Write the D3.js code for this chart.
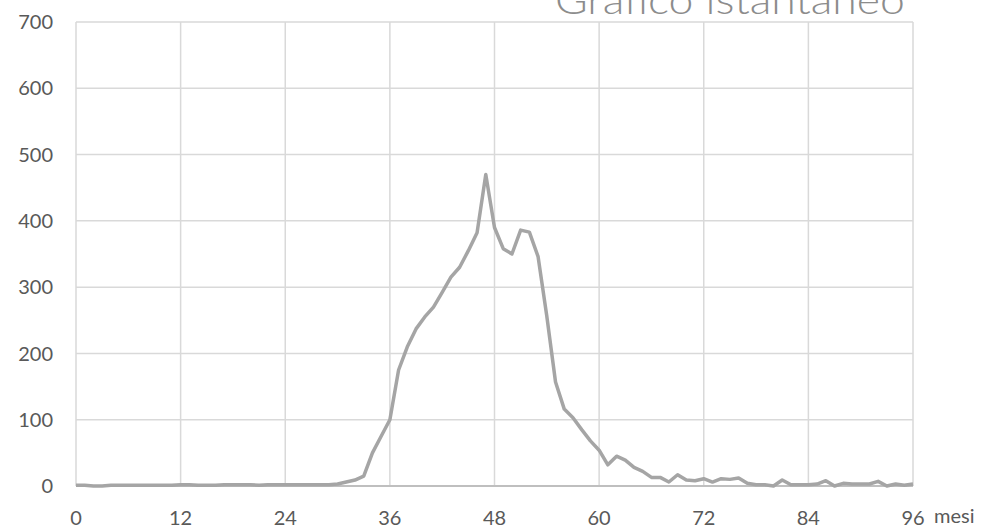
<!DOCTYPE html>
<html><head><meta charset="utf-8">
<script src="https://cdn.jsdelivr.net/npm/d3@7"></script>
<style>body{margin:0;background:#fff}svg{display:block}</style>
</head><body>
<svg id="c" width="1008" height="528"></svg>
<script>
const title = "Grafico istantaneo";
const xLabel = "mesi";
const xTicks = [0, 12, 24, 36, 48, 60, 72, 84, 96];
const yTicks = [0, 100, 200, 300, 400, 500, 600, 700];
const months = d3.range(0, 97);
const values = [
  1, 1, 0, 0, 1, 1, 1, 1, 1, 1,
  1, 1, 2, 2, 1, 1, 1, 2, 2, 2,
  2, 1, 2, 2, 2, 2, 2, 2, 2, 2,
  3, 6, 9, 15, 50, 75, 100, 175, 210, 237,
  255, 270, 292, 315, 330, 355, 382, 470, 390, 358,
  350, 386, 383, 346, 256, 157, 116, 103, 85, 68,
  54, 32, 45, 39, 28, 22, 13, 13, 6, 17,
  9, 8, 11, 6, 11, 10, 12, 4, 2, 2,
  0, 9, 2, 2, 2, 3, 8, 0, 4, 3,
  3, 3, 7, 0, 3, 1, 3
];

const svg = d3.select("#c");
const L = 76, R = 913, T = 22, B = 486;
const x = d3.scaleLinear().domain([0, 96]).range([L, R]);
const y = d3.scaleLinear().domain([0, 700]).range([B, T]);
const font = "Lato, 'Open Sans', sans-serif";

svg.append("g").selectAll("line").data(yTicks.filter(d => d > 0)).join("line")
  .attr("x1", L).attr("x2", R).attr("y1", d => y(d)).attr("y2", d => y(d))
  .attr("stroke", "#d9d9d9").attr("stroke-width", 1.5);
svg.append("g").selectAll("line").data(xTicks).join("line")
  .attr("x1", d => x(d)).attr("x2", d => x(d)).attr("y1", T).attr("y2", B)
  .attr("stroke", "#d9d9d9").attr("stroke-width", 1.5);
svg.append("line").attr("x1", L).attr("x2", R).attr("y1", B).attr("y2", B)
  .attr("stroke", "#bfbfbf").attr("stroke-width", 2);

svg.append("g").selectAll("text").data(yTicks).join("text")
  .attr("x", 53).attr("y", d => y(d)).attr("dy", "0.36em")
  .attr("text-anchor", "end").attr("font-family", font).attr("font-size", 20)
  .attr("fill", "#595959").text(d => d);
svg.append("g").selectAll("text").data(xTicks).join("text")
  .attr("x", d => x(d)).attr("y", 525)
  .attr("text-anchor", "middle").attr("font-family", font).attr("font-size", 20)
  .attr("fill", "#595959").text(d => d);
svg.append("text").attr("x", 934).attr("y", 523)
  .attr("font-family", font).attr("font-size", 20).attr("fill", "#595959").text(xLabel);

svg.append("text").attr("x", 555).attr("y", 14)
  .attr("font-family", font).attr("font-weight", 300).attr("font-size", 40)
  .attr("textLength", 350).attr("lengthAdjust", "spacingAndGlyphs")
  .attr("fill", "#8c8c8c").text(title);

const line = d3.line().x((d, i) => x(months[i])).y(d => y(d));
svg.append("path").datum(values).attr("d", line)
  .attr("fill", "none").attr("stroke", "#a5a5a5").attr("stroke-width", 3.5)
  .attr("stroke-linejoin", "round");
</script>
</body></html>
